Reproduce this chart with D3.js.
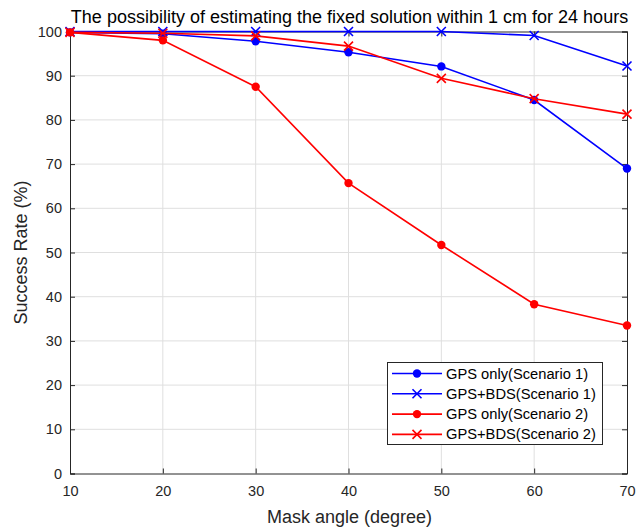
<!DOCTYPE html>
<html><head><meta charset="utf-8">
<script src="https://cdn.jsdelivr.net/npm/d3@7"></script>
<style>body{margin:0;background:#fff}svg{display:block;font-family:"Liberation Sans",Arial,Helvetica,sans-serif}</style>
</head><body><svg id="c" width="636" height="527"></svg>
<script>
const maskAngles = [10, 20, 30, 40, 50, 60, 70];
const gpsOnlyS1 = [99.8, 99.5, 97.8, 95.3, 92.1, 84.5, 69.0];
const gpsBdsS1  = [100, 100, 100, 100, 100, 99.1, 92.2];
const gpsOnlyS2 = [99.8, 98.0, 87.5, 65.7, 51.7, 38.3, 33.5];
const gpsBdsS2  = [99.8, 99.6, 99.0, 96.7, 89.4, 84.8, 81.3];
const xTicks = [10, 20, 30, 40, 50, 60, 70];
const yTicks = [0, 10, 20, 30, 40, 50, 60, 70, 80, 90, 100];
const seriesNames = ["GPS only(Scenario 1)", "GPS+BDS(Scenario 1)", "GPS only(Scenario 2)", "GPS+BDS(Scenario 2)"];
const seriesColors = ["#0000ff", "#0000ff", "#ff0000", "#ff0000"];
const seriesMarkers = ["circle", "x", "circle", "x"];
const seriesValues = [gpsOnlyS1, gpsBdsS1, gpsOnlyS2, gpsBdsS2];

const svg = d3.select("#c");
const L = 70, R = 627, T = 31.5, B = 473.5;
const x = d3.scaleLinear().domain([10, 70]).range([L, R]);
const y = d3.scaleLinear().domain([0, 100]).range([B, T]);
const axCol = "#262626";

// grid
const g = svg.append("g");
g.selectAll(".gx").data(xTicks.slice(1, -1)).join("line")
  .attr("x1", d => x(d)).attr("x2", d => x(d)).attr("y1", T).attr("y2", B)
  .attr("stroke", "#dfdfdf").attr("stroke-width", 1);
g.selectAll(".gy").data(yTicks.slice(1, -1)).join("line")
  .attr("y1", d => y(d)).attr("y2", d => y(d)).attr("x1", L).attr("x2", R)
  .attr("stroke", "#dfdfdf").attr("stroke-width", 1);

// axes
const ax = svg.append("g").attr("transform", `translate(0,${B})`)
  .call(d3.axisBottom(x).tickValues(xTicks).tickSize(-5).tickPadding(12));
const axT = svg.append("g").attr("transform", `translate(0,${T})`)
  .call(d3.axisTop(x).tickValues(xTicks).tickSize(-5).tickFormat(""));
const ay = svg.append("g").attr("transform", `translate(${L},0)`)
  .call(d3.axisLeft(y).tickValues(yTicks).tickSize(-5).tickPadding(8));
const ayR = svg.append("g").attr("transform", `translate(${R},0)`)
  .call(d3.axisRight(y).tickValues(yTicks).tickSize(-5).tickFormat(""));
[ax, axT, ay, ayR].forEach(a => {
  a.select(".domain").attr("stroke", axCol).attr("stroke-width", 1);
  a.selectAll(".tick line").attr("stroke", axCol);
  a.selectAll(".tick text").attr("fill", axCol).style("font-size", "14.5px")
    .style("font-family", '"Liberation Sans",Arial,sans-serif');
});

// series
const line = d3.line().x((d, i) => x(maskAngles[i])).y(d => y(d));
function drawMarker(sel, type, color, cx, cy) {
  if (type === "circle") {
    sel.append("circle").attr("cx", cx).attr("cy", cy).attr("r", 4.2).attr("fill", color);
  } else {
    const s = 4.5;
    sel.append("path").attr("d", `M${cx-s},${cy-s}L${cx+s},${cy+s}M${cx-s},${cy+s}L${cx+s},${cy-s}`)
      .attr("stroke", color).attr("stroke-width", 1.6).attr("fill", "none");
  }
}
seriesValues.forEach((vals, k) => {
  const sg = svg.append("g");
  sg.append("path").datum(vals).attr("d", line).attr("fill", "none")
    .attr("stroke", seriesColors[k]).attr("stroke-width", 1.6);
  vals.forEach((v, i) => drawMarker(sg, seriesMarkers[k], seriesColors[k], x(maskAngles[i]), y(v)));
});

// legend
const lg = svg.append("g");
lg.append("rect").attr("x", 387.5).attr("y", 362.5).attr("width", 215).attr("height", 82)
  .attr("fill", "#fff").attr("stroke", axCol).attr("stroke-width", 1);
seriesNames.forEach((n, k) => {
  const yy = 373.5 + k * 20.3;
  lg.append("line").attr("x1", 392).attr("x2", 442).attr("y1", yy).attr("y2", yy)
    .attr("stroke", seriesColors[k]).attr("stroke-width", 1.6);
  drawMarker(lg, seriesMarkers[k], seriesColors[k], 417, yy);
  lg.append("text").attr("x", 446).attr("y", yy + 5).text(n)
    .attr("fill", "#000").style("font-size", "14.7px");
});

// title and labels
svg.append("text").attr("x", (L + R) / 2 + 1).attr("y", 23).attr("text-anchor", "middle")
  .style("font-size", "18px").attr("fill", "#000")
  .text("The possibility of estimating the fixed solution within 1 cm for 24 hours");
svg.append("text").attr("x", (L + R) / 2 + 1).attr("y", 523).attr("text-anchor", "middle")
  .style("font-size", "18px").attr("fill", axCol).text("Mask angle (degree)");
svg.append("text").attr("transform", `translate(27,${(T + B) / 2}) rotate(-90)`)
  .attr("text-anchor", "middle").style("font-size", "18px").attr("fill", axCol)
  .text("Success Rate (%)");
</script></body></html>
